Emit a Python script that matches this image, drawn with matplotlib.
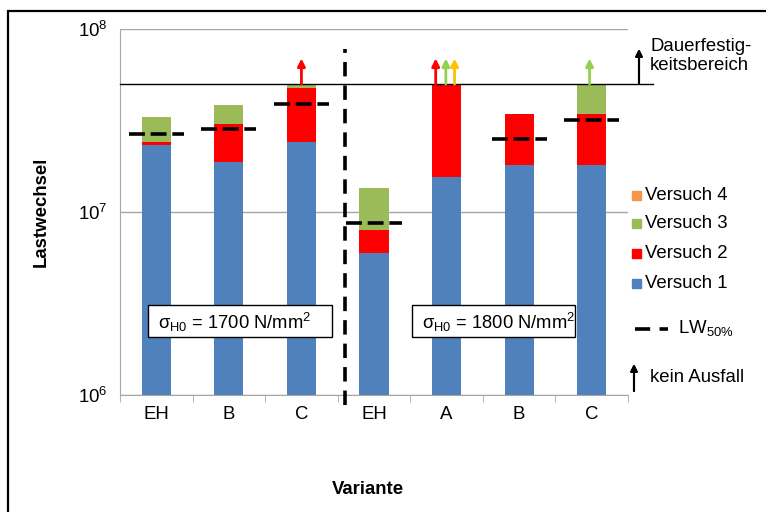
import numpy as np
import matplotlib.pyplot as plt
from matplotlib.patches import Rectangle
from matplotlib.lines import Line2D

plt.rcParams['font.family'] = ['Liberation Sans', 'DejaVu Sans']
plt.rcParams['mathtext.fontset'] = 'custom'
plt.rcParams['mathtext.rm'] = 'Liberation Sans'
plt.rcParams['mathtext.it'] = 'Liberation Sans'
plt.rcParams['mathtext.bf'] = 'Liberation Sans:bold'

# ------------------------------------------------------------------
# ---------------------------- Data --------------------------------
# ------------------------------------------------------------------
categories = ['EH', 'B', 'C', 'EH', 'A', 'B', 'C']
# stacked segments (Lastwechsel)
versuch1 = [2.32e7, 1.87e7, 2.41e7, 6.0e6, 1.55e7, 1.81e7, 1.81e7]
versuch2 = [0.10e7, 1.16e7, 2.35e7, 2.0e6, 3.45e7, 1.63e7, 1.63e7]
versuch3 = [0.89e7, 0.82e7, 0.24e7, 5.5e6, 0.0, 0.0, 1.56e7]
versuch4 = [0.0, 0.0, 0.0, 0.0, 0.0, 0.0, 0.0]
lw50 = [2.67e7, 2.85e7, 3.89e7, 8.7e6, np.nan, 2.5e7, 3.18e7]
dauerfest = 5e7
# run-outs (kein Ausfall): category index, offset, colour
runout_idx = [2, 4, 4, 4, 6]
runout_off = [0.0, -0.15, -0.01, 0.11, -0.03]
runout_col = ['#FF0000', '#FF0000', '#92D050', '#FFC000', '#92D050']
runout_top = 6.9e7
stress_labels = [r'σ$_{\mathrm{H0}}$ = 1700 N/mm$^2$', r'σ$_{\mathrm{H0}}$ = 1800 N/mm$^2$']

c1, c2, c3, c4 = '#4F81BD', '#FF0000', '#9BBB59', '#F79646'
fs = 13.4

W, H = 766, 512
fx = lambda x: x / W
fy = lambda y: 1 - y / H

fig = plt.figure(figsize=(W / 100, H / 100), dpi=100)
ax = fig.add_axes([fx(120), fy(395), fx(628) - fx(120), fy(29) - fy(395)])

x = np.arange(len(categories))
v1 = np.array(versuch1)
v2 = np.array(versuch2)
v3 = np.array(versuch3)
v4 = np.array(versuch4)
bw = 0.4
ax.bar(x, v1, bw, color=c1, zorder=2)
ax.bar(x, v2, bw, bottom=v1, color=c2, zorder=2)
ax.bar(x, v3, bw, bottom=v1 + v2, color=c3, zorder=2)
ax.bar(x, v4, bw, bottom=v1 + v2 + v3, color=c4, zorder=2)

ax.set_yscale('log')
ax.set_ylim(1e6, 1e8)
ax.set_xlim(-0.5, len(categories) - 0.5)

# LW50% dashes
ax.hlines(lw50, x - 0.38, x + 0.38, colors='k', lw=2.6,
          linestyles=(0, (4.4, 1.6)), zorder=4)

# Dauerfestigkeit line
ax.plot([-0.5, 6.84], [dauerfest, dauerfest], color='k', lw=1, clip_on=False, zorder=3)

# divider
ax.plot([2.6, 2.6], [8.8e5, 7.8e7], color='k', lw=2.6,
        linestyle=(0, (4, 2.5)), clip_on=False, zorder=3)

# run-out arrows
for i, o, c in zip(runout_idx, runout_off, runout_col):
    ax.annotate('', xy=(i + o, runout_top), xytext=(i + o, dauerfest),
                arrowprops=dict(arrowstyle='-|>', color=c, lw=2,
                                mutation_scale=11, shrinkA=0, shrinkB=0),
                zorder=5)

# axes styling
ax.yaxis.grid(True, which='major', color='#A6A6A6', lw=1)
ax.set_axisbelow(True)
for s in ['top', 'right']:
    ax.spines[s].set_visible(False)
ax.spines['left'].set_color('#A6A6A6')
ax.spines['bottom'].set_color('#A6A6A6')
ax.set_yticks([1e6, 1e7, 1e8])
ax.set_yticklabels(['$10^6$', '$10^7$', '$10^8$'], fontsize=fs)
ax.yaxis.set_minor_locator(plt.NullLocator())
ax.tick_params(axis='y', length=0, pad=9)
ax.set_xticks(x)
ax.set_xticklabels(categories, fontsize=fs)
ax.tick_params(axis='x', length=0, pad=8)
ax.set_xticks(np.arange(-0.5, len(categories)), minor=True)
ax.tick_params(axis='x', which='minor', length=5, color='#A6A6A6')

# stress boxes
for lab, (bx0, bx1, tx) in zip(stress_labels, [(148, 332, 158), (412, 575, 422)]):
    fig.add_artist(Rectangle((fx(bx0), fy(337)), fx(bx1) - fx(bx0), 32 / H,
                             transform=fig.transFigure, fc='white', ec='k', lw=1))
    fig.text(fx(tx), fy(322), lab, fontsize=13.2, va='center', ha='left')

# axis labels
fig.text(fx(41), fy(212), 'Lastwechsel', rotation=90, fontsize=fs,
         fontweight='bold', ha='center', va='center')
fig.text(fx(368), fy(490), 'Variante', fontsize=fs, fontweight='bold',
         ha='center', va='center')

# legend (manual)
leg_labels = ['Versuch 4', 'Versuch 3', 'Versuch 2', 'Versuch 1']
leg_cols = [c4, c3, c2, c1]
leg_y = [195, 223, 253, 283]
for lab, col, yy in zip(leg_labels, leg_cols, leg_y):
    fig.add_artist(Rectangle((fx(632), fy(yy + 4.5)), fx(9), 9 / H,
                             transform=fig.transFigure, color=col))
    fig.text(fx(645), fy(yy), lab, fontsize=fs, va='center')

fig.add_artist(Line2D([fx(635), fx(668)], [fy(329), fy(329)], color='k',
                      lw=2.6, linestyle=(0, (4.2, 2.6)), transform=fig.transFigure))
fig.text(fx(678), fy(328), r'LW$_{50\%}$', fontsize=fs, va='center')

fig.add_artist(plt.annotate('', xy=(fx(634), fy(364)), xytext=(fx(634), fy(391)),
                            xycoords='figure fraction', textcoords='figure fraction',
                            arrowprops=dict(arrowstyle='-|>', color='k', lw=1.5,
                                            mutation_scale=10, shrinkA=0, shrinkB=0)))
fig.text(fx(650), fy(378), 'kein Ausfall', fontsize=fs, va='center')

fig.add_artist(plt.annotate('', xy=(fx(639), fy(49)), xytext=(fx(639), fy(83)),
                            xycoords='figure fraction', textcoords='figure fraction',
                            arrowprops=dict(arrowstyle='-|>', color='k', lw=1.5,
                                            mutation_scale=10, shrinkA=0, shrinkB=0)))
fig.text(fx(650), fy(56), 'Dauerfestig-\nkeitsbereich', fontsize=fs, va='center',
         linespacing=1.15)

# outer frame (left and top visible)
fig.add_artist(Rectangle((fx(8), -0.1), 1.2, fy(11) + 0.1, fill=False, ec='k',
                         lw=1.6, transform=fig.transFigure))

fig.savefig('out.png', dpi=100)
